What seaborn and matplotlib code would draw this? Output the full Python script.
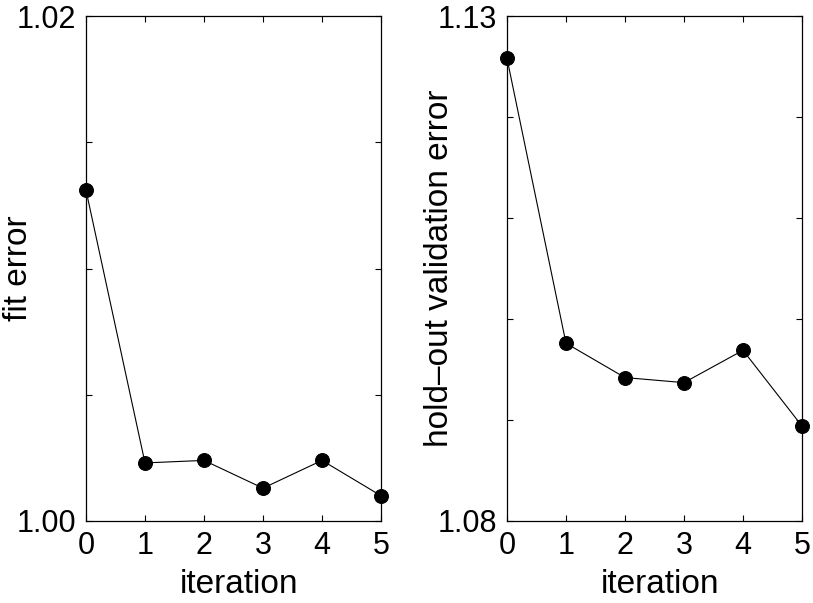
import numpy as np
import pandas as pd
import seaborn as sns
import matplotlib
matplotlib.use("Agg")
import matplotlib.pyplot as plt

# data
iteration = [0, 1, 2, 3, 4, 5]
fit_error = [1.0131, 1.0023, 1.0024, 1.0013, 1.0024, 1.0010]
holdout_error = [1.1258, 1.0976, 1.0942, 1.0937, 1.0969, 1.0894]

sns.set_style("ticks", rc={"axes.edgecolor": "black", "text.color": "black",
                           "axes.labelcolor": "black", "xtick.color": "black",
                           "ytick.color": "black"})
plt.rcParams['font.family'] = ['Liberation Sans', 'DejaVu Sans']
plt.rcParams['xtick.direction'] = 'in'
plt.rcParams['ytick.direction'] = 'in'
plt.rcParams['axes.linewidth'] = 0.9

df = pd.DataFrame({"iteration": iteration, "fit": fit_error, "holdout": holdout_error})

fig = plt.figure(figsize=(8.13, 6.03), dpi=100)
ax1 = fig.add_axes([86/813, 1-521/603, 295/813, 505/603])
ax2 = fig.add_axes([507/813, 1-521/603, 295/813, 505/603])

panels = [
    (ax1, "fit", "fit error", 1.00, 1.02, 0.005),
    (ax2, "holdout", "hold\u2013out validation error", 1.08, 1.13, 0.01),
]

for ax, col, label, lo, hi, step in panels:
    sns.lineplot(data=df, x="iteration", y=col, ax=ax, color='black',
                 marker='o', markersize=10, linewidth=0.8,
                 markeredgecolor='black', clip_on=False, zorder=5)
    ax.set_xlim(0, 5)
    ax.set_ylim(lo, hi)
    ax.set_xticks(iteration)
    ax.set_xticklabels([str(i) for i in iteration], fontsize=22)
    yt = np.arange(lo, hi + step/2, step)
    ax.set_yticks(yt)
    ax.set_yticklabels([f"{lo:.2f}"] + [""] * (len(yt) - 2) + [f"{hi:.2f}"], fontsize=22)
    ax.tick_params(top=True, right=True, length=4, width=0.8)
    ax.tick_params(axis='x', pad=7)
    ax.tick_params(axis='y', pad=7)
    ax.set_xlabel("iteration", fontsize=24)
    ax.set_ylabel(label, fontsize=24)
    ax.xaxis.set_label_coords(0.52, -0.095)
    ax.yaxis.set_label_coords(-0.177, 0.5)
    for s in ax.spines.values():
        s.set_visible(True)

fig.savefig("out.png", dpi=100)
